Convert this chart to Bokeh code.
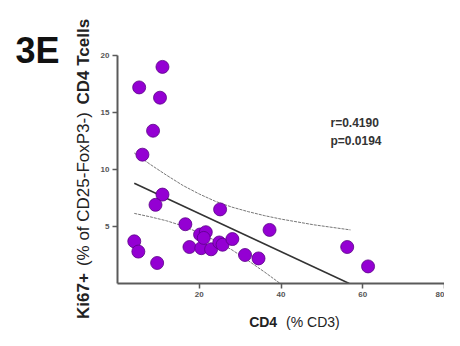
import math
from bokeh.plotting import figure
from bokeh.models import Label, FixedTicker, Range1d
from bokeh.layouts import row, column
from bokeh.embed import file_html
from bokeh.resources import INLINE

# Data
cd4 = [11.0, 5.3, 10.4, 8.7, 6.1, 11.0, 9.3, 16.6, 4.1, 5.1, 9.7, 17.6, 20.5,
       20.2, 21.6, 21.1, 22.9, 24.9, 25.7, 28.1, 31.2, 34.5, 37.2, 25.1, 56.2, 61.3]
ki67 = [19.0, 17.2, 16.3, 13.4, 11.3, 7.8, 6.9, 5.2, 3.7, 2.8, 1.8, 3.2, 3.1,
        4.3, 4.5, 4.0, 3.0, 3.6, 3.4, 3.9, 2.5, 2.2, 4.7, 6.5, 3.2, 1.5]

fit_x = [4.1, 56.7]
fit_y = [8.8, 0.0]
upper_x = [4.1, 8, 12, 16, 20, 24, 28, 32, 36, 40, 44, 48, 52, 57]
upper_y = [11.45, 10.45, 9.5, 8.6, 7.85, 7.2, 6.7, 6.3, 5.95, 5.65, 5.4, 5.15, 4.95, 4.7]
lower_x = [4.1, 8, 12, 16, 20, 24, 28, 32, 36, 39.8]
lower_y = [6.15, 5.85, 5.5, 5.05, 4.45, 3.75, 2.95, 2.0, 1.0, 0.0]

x_ticks = [20, 40, 60, 80]
y_ticks = [5, 10, 15, 20]
stats = ["r=0.4190", "p=0.0194"]
panel = "3E"
y_title = [("Ki67+", "bold"), ("(% of CD25-FoxP3-)", "normal"), ("CD4 Tcells", "bold")]
x_title = [("CD4", "bold"), ("(% CD3)", "normal")]

FONT = "Liberation Sans"
AX = "#5a5a5a"
TXT = "#222222"
H = 330


def blank(width, height, xr, yr):
    f = figure(width=width, height=height, x_range=Range1d(*xr), y_range=Range1d(*yr),
               output_backend="svg", toolbar_location=None,
               min_border=0, min_border_left=0, min_border_right=0,
               min_border_top=0, min_border_bottom=0)
    f.axis.visible = False
    f.grid.visible = False
    f.outline_line_color = None
    f.background_fill_color = "white"
    f.border_fill_color = "white"
    return f


# ---- main scatter plot ----
p = figure(width=348, height=305, x_range=Range1d(0, 80), y_range=Range1d(0, 20),
           output_backend="svg", toolbar_location=None,
           min_border_left=21, min_border_right=0, min_border_top=55, min_border_bottom=22)
p.outline_line_color = None
p.xgrid.visible = False
p.ygrid.visible = False
p.background_fill_color = "white"
p.border_fill_color = "white"

for ax, ticks in ((p.xaxis[0], x_ticks), (p.yaxis[0], y_ticks)):
    ax.ticker = FixedTicker(ticks=ticks)
    ax.axis_line_color = AX
    ax.axis_line_width = 2
    ax.major_tick_line_color = AX
    ax.major_tick_line_width = 1.5
    ax.major_tick_out = 5
    ax.major_tick_in = 0
    ax.minor_tick_line_color = None
    ax.major_label_text_font = FONT
    ax.major_label_text_font_size = "8px"
    ax.major_label_text_font_style = "bold"
    ax.major_label_text_color = "#555555"
    ax.major_label_standoff = 3

p.line(upper_x, upper_y, line_color="#777777", line_width=1, line_dash="3 1")
p.line(lower_x, lower_y, line_color="#777777", line_width=1, line_dash="3 1")
p.line(fit_x, fit_y, line_color="#333333", line_width=1.6)

p.scatter(cd4, ki67, size=13, fill_color="#9400d3", line_color="#5b0087", line_width=0.8)

for t, yy in zip(stats, [14.1, 12.5]):
    p.add_layout(Label(x=52.1, y=yy, text=t, text_font=FONT, text_font_size="12px",
                       text_font_style="bold", text_color="#333333",
                       text_align="left", text_baseline="middle"))

# ---- left strip: panel letter and y-axis title (x = px, y = H - px) ----
left = blank(96, H, (0, 96), (0, H))
left.add_layout(Label(x=15, y=H - 50, text=panel, text_font=FONT, text_font_size="36px",
                      text_font_style="bold", text_color="#111111",
                      text_align="left", text_baseline="alphabetic"))
for (t, style), py in zip(y_title, [295.5, 188.6, 61.2]):
    left.add_layout(Label(x=83, y=H - py, text=t, angle=math.pi / 2, text_font=FONT,
                          text_font_size="17px", text_font_style=style, text_color=TXT,
                          text_align="center", text_baseline="middle"))

# ---- bottom strip: x-axis title (canvas y 305..330) ----
bottom = blank(348, 25, (96, 444), (0, 25))
for (t, style), px in zip(x_title, [251, 304]):
    bottom.add_layout(Label(x=px, y=H - 321, text=t, text_font=FONT, text_font_size="14px",
                            text_font_style=style, text_color=TXT,
                            text_align="center", text_baseline="middle"))

layout = row(left, column(p, bottom, spacing=0), spacing=0)
open("out.html", "w").write(file_html(layout, INLINE))
